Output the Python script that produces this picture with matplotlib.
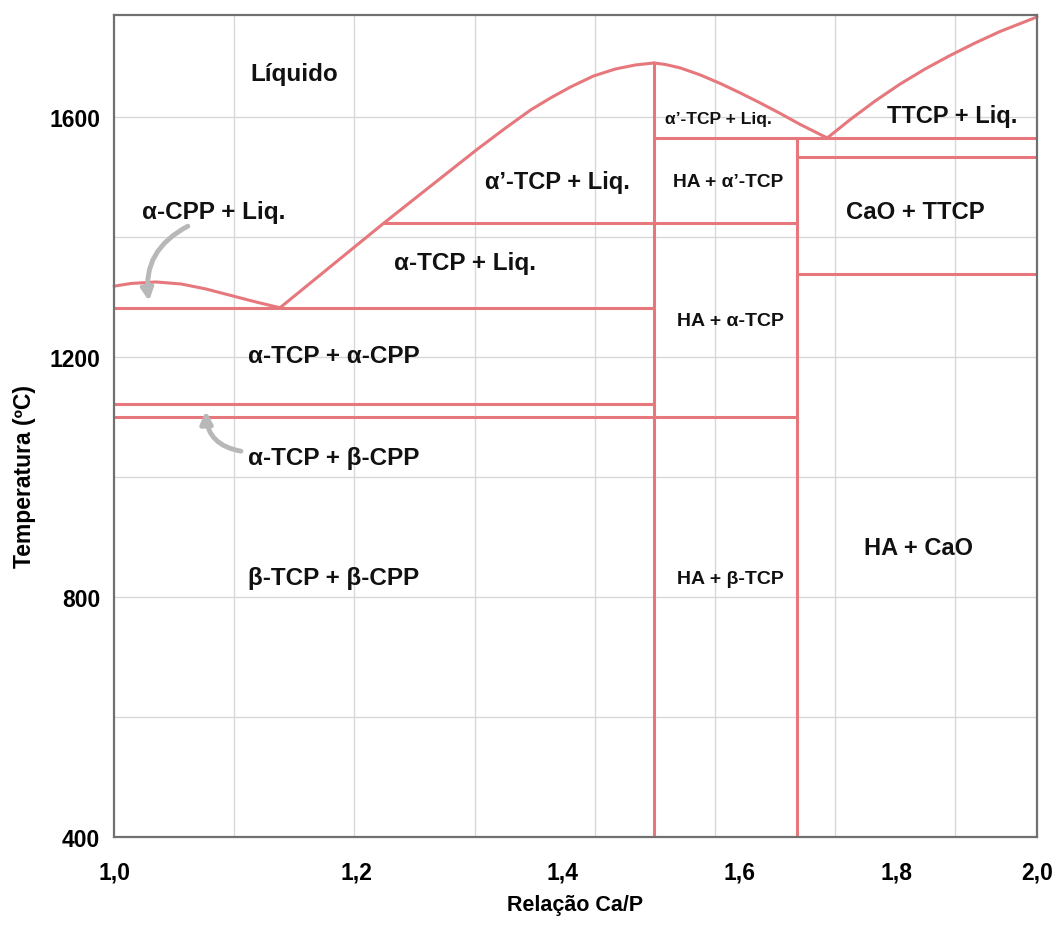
import numpy as np
import matplotlib
matplotlib.use("Agg")
import matplotlib.pyplot as plt
from matplotlib.ticker import FixedLocator, FuncFormatter, NullFormatter

plt.rcParams['font.family'] = ['Liberation Sans', 'DejaVu Sans']

# Dados do diagrama CaO-P2O5 (Ca/P x temperatura em ºC)
cpp_liq_x = [1.0, 1.0128, 1.032, 1.0515, 1.0715, 1.0917, 1.1124, 1.1327]
cpp_liq_t = [1318, 1322.5, 1325, 1321.7, 1313.3, 1302.5, 1291.7, 1282]

tcp_liq_x = [1.1327, 1.2245, 1.2685, 1.314, 1.3419, 1.3673, 1.3879, 1.4089,
             1.4334, 1.4573, 1.4793, 1.5]
tcp_liq_t = [1282, 1423, 1485, 1546.7, 1581.7, 1611.7, 1631.7, 1650,
             1668.3, 1680, 1686.7, 1690]

ha_liq_x = [1.5, 1.513, 1.5301, 1.5532, 1.5767, 1.6005, 1.6247, 1.6493, 1.6742, 1.7085]
ha_liq_t = [1690, 1687.5, 1681.7, 1670, 1655.8, 1640, 1623.3, 1605.8, 1587.5, 1565]

ttcp_liq_x = [1.7085, 1.7383, 1.7711, 1.8047, 1.8388, 1.8736, 1.9091, 1.9453, 2.0]
ttcp_liq_t = [1565, 1595.8, 1626.7, 1655, 1680, 1702.5, 1723.3, 1742.5, 1766.7]

# linhas horizontais: (temperatura, Ca/P inicial, Ca/P final)
isotermas_t = [1282, 1423, 1565, 1533, 1338, 1122, 1100]
isotermas_x0 = [1.0, 1.2245, 1.5, 1.67, 1.67, 1.0, 1.0]
isotermas_x1 = [1.5, 1.67, 2.0, 2.0, 2.0, 1.5, 1.67]

# linhas verticais: (Ca/P, temperatura inicial, temperatura final)
verticais_x = [1.5, 1.67]
verticais_t0 = [400, 400]
verticais_t1 = [1690, 1565]

# rótulos das regiões
rotulos = ["Líquido", "α-CPP + Liq.", "α\u2019-TCP + Liq.", "α-TCP + Liq.",
           "α\u2019-TCP + Liq.", "HA + α\u2019-TCP", "TTCP + Liq.", "CaO + TTCP",
           "HA + α-TCP", "HA + CaO", "HA + β-TCP", "α-TCP + α-CPP",
           "α-TCP + β-CPP", "β-TCP + β-CPP"]
rotulos_x = [1.1445, 1.0779, 1.3953, 1.302, 1.5745, 1.586, 1.8765, 1.825,
             1.5887, 1.829, 1.5887, 1.1794, 1.1794, 1.1794]
rotulos_t = [1672, 1443, 1493, 1358, 1597, 1493, 1602, 1442,
             1260, 883, 830, 1202, 1033, 833]
rotulos_tam = [17.5, 17.5, 17, 17.5, 12.5, 13.8, 17, 17.2, 14, 17, 14, 17.5, 17.5, 17.5]

xticks = [1.0, 1.2, 1.4, 1.6, 1.8, 2.0]
yticks = [400, 800, 1200, 1600]

cor = "#e6787d"
lw = 2.2

fig = plt.figure(figsize=(10.57, 9.29), dpi=100)
ax = fig.add_axes([0.1079, 0.098, 0.8732, 0.8848])

ax.set_xscale("log", base=2)
ax.set_xlim(1.0, 2.0)
ax.set_ylim(400, 1770)

# grade de fundo
grade_x = 2 ** (np.arange(1, 8) * 0.1302)
ax.xaxis.set_major_locator(FixedLocator(xticks))
ax.xaxis.set_minor_locator(FixedLocator(grade_x))
ax.xaxis.set_major_formatter(FuncFormatter(lambda v, p: f"{v:.1f}".replace(".", ",")))
ax.xaxis.set_minor_formatter(NullFormatter())
ax.yaxis.set_major_locator(FixedLocator(yticks))
ax.yaxis.set_minor_locator(FixedLocator([600, 1000, 1400]))
ax.grid(axis="x", which="minor", color="#d8d8d8", lw=1)
ax.grid(axis="y", which="both", color="#d8d8d8", lw=1)
ax.set_axisbelow(True)
ax.tick_params(which="both", length=0)
ax.tick_params(axis="x", pad=17, labelsize=16.5)
ax.tick_params(axis="y", pad=10, labelsize=16.5)
for lab in ax.get_xticklabels() + ax.get_yticklabels():
    lab.set_fontweight("bold")
for sp in ax.spines.values():
    sp.set_color("#707070")
    sp.set_linewidth(1.6)

# curvas liquidus
for xs, ts in [(cpp_liq_x, cpp_liq_t), (tcp_liq_x, tcp_liq_t),
               (ha_liq_x, ha_liq_t), (ttcp_liq_x, ttcp_liq_t)]:
    ax.plot(xs, ts, color=cor, lw=lw, solid_joinstyle="round",
            solid_capstyle="round", clip_on=False)

for t, x0, x1 in zip(isotermas_t, isotermas_x0, isotermas_x1):
    ax.plot([x0, x1], [t, t], color=cor, lw=lw)

for x, t0, t1 in zip(verticais_x, verticais_t0, verticais_t1):
    ax.plot([x, x], [t0, t1], color=cor, lw=lw)

for txt, x, t, s in zip(rotulos, rotulos_x, rotulos_t, rotulos_tam):
    ax.text(x, t, txt, ha="center", va="center", fontsize=s, fontweight="bold",
            color="#111111")

# setas cinzas
seta = dict(arrowstyle="-|>,head_length=0.7,head_width=0.35", color="#b8b8b8", lw=3.5,
            shrinkA=0, shrinkB=0)
ax.annotate("", xy=(1.0266, 1293), xytext=(1.057, 1418),
            arrowprops=dict(seta, connectionstyle="arc3,rad=0.35"))
ax.annotate("", xy=(1.0714, 1110), xytext=(1.100, 1043),
            arrowprops=dict(seta, connectionstyle="arc3,rad=-0.4"))

ax.set_xlabel("Relação Ca/P", fontsize=15.5, fontweight="bold")
ax.set_ylabel("Temperatura (ºC)", fontsize=16.5, fontweight="bold")
ax.xaxis.set_label_coords(0.5, -0.07)
ax.yaxis.set_label_coords(-0.085, 0.44)

fig.savefig("out.png", dpi=100)
